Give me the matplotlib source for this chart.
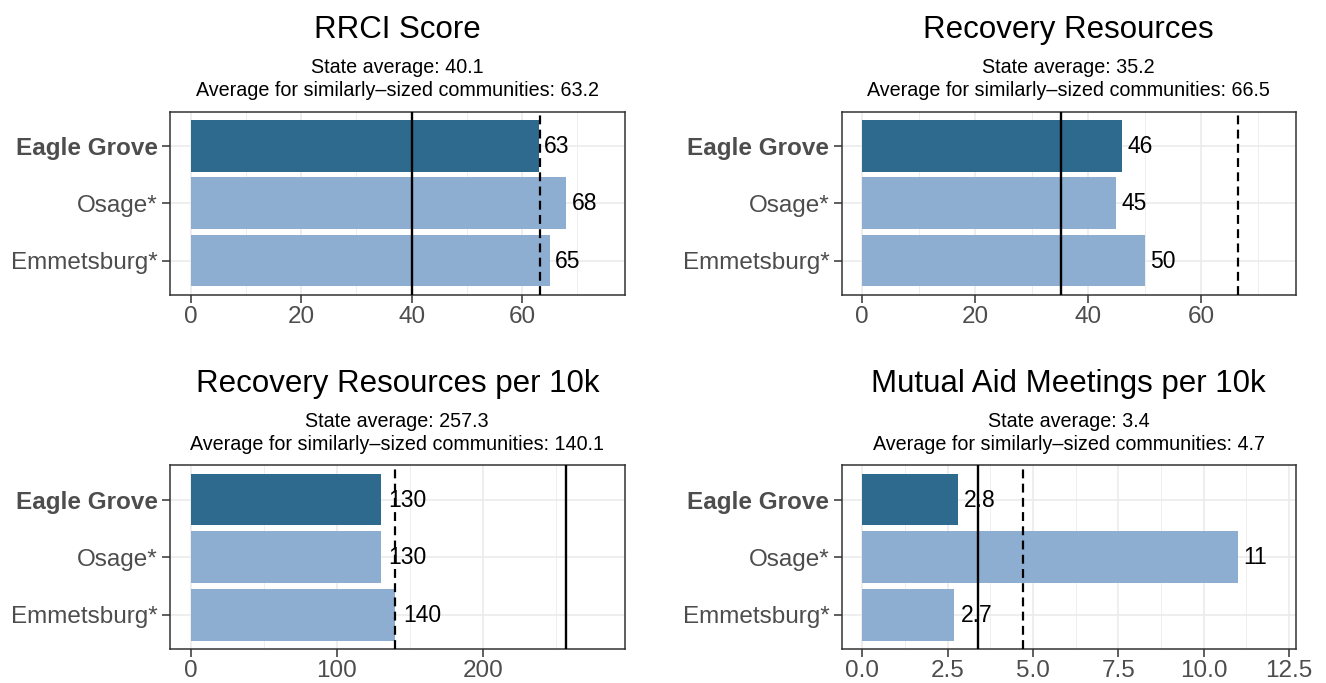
import matplotlib
matplotlib.use("Agg")
import matplotlib.pyplot as plt
from matplotlib.ticker import MultipleLocator

plt.rcParams['font.family'] = ['Liberation Sans', 'DejaVu Sans']

towns = ["Eagle Grove", "Osage*", "Emmetsburg*"]
rrci = [63, 68, 65]
resources = [46, 45, 50]
resources_10k = [130.4, 130.3, 140.2]
meetings_10k = [2.8, 11.0, 2.7]

titles = ["RRCI Score", "Recovery Resources",
          "Recovery Resources per 10k", "Mutual Aid Meetings per 10k"]
state_avg = [40.1, 35.2, 257.3, 3.4]
similar_avg = [63.2, 66.5, 140.1, 4.7]
major_step = [20, 20, 100, 2.5]

series = [rrci, resources, resources_10k, meetings_10k]

dark = "#2E6A8E"
light = "#8DAED1"
bar_colors = [dark, light, light]

W, H = 1326, 683
fig = plt.figure(figsize=(W / 100, H / 100), dpi=100)

# panel boxes in pixels: left, top, right, bottom
boxes = [(170, 111.5, 624.5, 295),
         (841.5, 111.5, 1296, 295),
         (170, 465, 624.5, 649.3),
         (841.5, 465, 1296, 649.3)]


def sig2(v):
    s = float(f"{v:.2g}")
    return f"{s:g}"


for i, vals in enumerate(series):
    l, t, r, b = boxes[i]
    ax = fig.add_axes([l / W, 1 - b / H, (r - l) / W, (b - t) / H])
    ypos = [3, 2, 1]
    ax.barh(ypos, vals, height=0.9, color=bar_colors, zorder=2)
    ax.axvline(state_avg[i], color="black", lw=1.7, zorder=3)
    ax.axvline(similar_avg[i], color="black", lw=1.6, ls=(0, (4, 2.4)), zorder=3)

    fs_lab = 16.5
    for y, v in zip(ypos, vals):
        lab = sig2(v)
        w = sum(0.278 if c == "." else 0.556 for c in lab) * fs_lab
        ax.annotate(lab, (v, y), xytext=(0.2 * w, -0.5), textcoords="offset points",
                    ha="left", va="center", fontsize=fs_lab, color="black", zorder=4)

    m = max(vals + [state_avg[i], similar_avg[i]]) * 1.1
    ax.set_xlim(-0.05 * m, m * 1.05)
    ax.set_ylim(0.4, 3.6)
    ax.xaxis.set_major_locator(MultipleLocator(major_step[i]))
    ax.xaxis.set_minor_locator(MultipleLocator(major_step[i] / 2))
    ax.set_yticks(ypos)
    ax.set_yticklabels(towns)
    ax.get_yticklabels()[0].set_fontweight("bold")
    if major_step[i] == 2.5:
        ax.set_xticklabels([f"{x:.1f}" for x in ax.get_xticks()])

    ax.grid(which="major", color="#EBEBEB", lw=1.2, zorder=0)
    ax.grid(which="minor", axis="x", color="#EBEBEB", lw=0.6, zorder=0)
    ax.set_axisbelow(True)
    for sp in ax.spines.values():
        sp.set_color("#333333")
        sp.set_linewidth(1.1)
    ax.tick_params(axis="both", which="major", length=5.5, width=1.1, color="#333333",
                   labelsize=17.5, labelcolor="#4D4D4D")
    ax.tick_params(axis="y", pad=3.2)
    ax.tick_params(axis="x", pad=2.5)
    ax.tick_params(which="minor", length=0)

    ax.annotate(titles[i], (0.5, 1), xycoords="axes fraction", xytext=(0, 52.8),
                textcoords="offset points", ha="center", va="baseline", fontsize=22.5)
    ax.annotate(f"State average: {state_avg[i]}", (0.5, 1), xycoords="axes fraction",
                xytext=(0, 27.6), textcoords="offset points", ha="center",
                va="baseline", fontsize=14.2)
    ax.annotate(f"Average for similarly\u2013sized communities: {similar_avg[i]}", (0.5, 1),
                xycoords="axes fraction", xytext=(0, 10.8), textcoords="offset points",
                ha="center", va="baseline", fontsize=14.2)

fig.savefig("out.png", dpi=100)
